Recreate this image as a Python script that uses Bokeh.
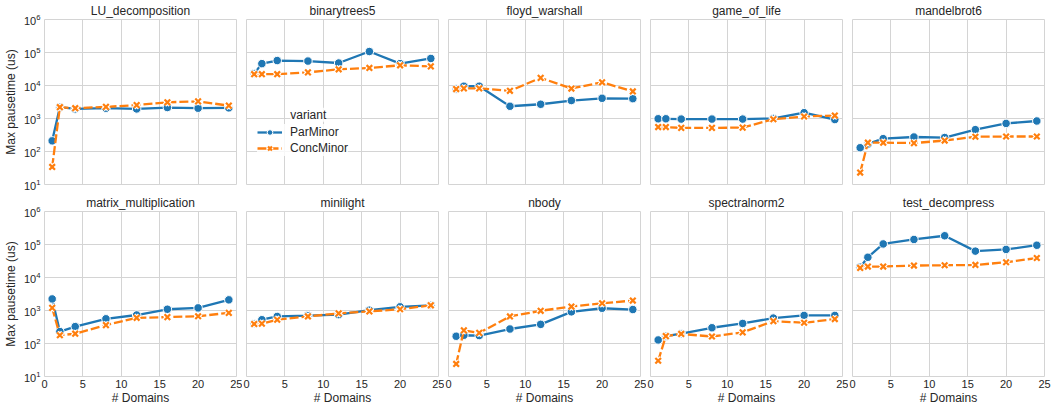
from bokeh.plotting import figure
from bokeh.layouts import column, row
from bokeh.models import Range1d, FixedTicker, Legend, LegendItem, Label
from bokeh.embed import file_html
from bokeh.resources import INLINE

# ---------------- data ----------------
domains = [1, 2, 4, 8, 12, 16, 20, 24]

lu_par = [210, 2200, 1950, 2050, 1950, 2150, 2050, 2100]
lu_conc = [34, 2200, 2050, 2250, 2550, 3100, 3300, 2450]

bt_par = [23000, 46000, 57000, 55000, 48000, 107000, 46000, 66000]
bt_conc = [22000, 22000, 22000, 25000, 31000, 34000, 41000, 38000]

fw_par = [7800, 9500, 9500, 2350, 2700, 3500, 4100, 4000]
fw_conc = [7800, 8200, 8200, 6900, 17000, 8100, 12500, 6600]

gol_par = [980, 980, 960, 960, 960, 1000, 1500, 930]
gol_conc = [550, 550, 520, 520, 530, 950, 1150, 1230]

mb_par = [130, 170, 245, 275, 265, 460, 710, 840]
mb_conc = [23, 185, 185, 180, 215, 280, 285, 285]

mm_par = [2240, 230, 325, 560, 730, 1090, 1200, 2100]
mm_conc = [1200, 178, 198, 360, 600, 630, 670, 850]

ml_par = [400, 525, 660, 700, 750, 1020, 1290, 1440]
ml_conc = [390, 400, 525, 660, 820, 940, 1090, 1440]

nb_par = [166, 178, 174, 275, 380, 910, 1170, 1070]
nb_conc = [24, 250, 210, 660, 980, 1320, 1660, 2000]

sn_par = [128, 167, 198, 300, 405, 590, 710, 710]
sn_conc = [30, 167, 195, 163, 218, 475, 425, 550]

td_par = [20500, 41000, 104000, 142000, 184000, 63000, 71000, 95000]
td_conc = [19500, 21500, 21500, 23000, 23500, 24000, 29000, 39000]

benchmarks = ["LU_decomposition", "binarytrees5", "floyd_warshall", "game_of_life", "mandelbrot6",
              "matrix_multiplication", "minilight", "nbody", "spectralnorm2", "test_decompress"]
par_series = [lu_par, bt_par, fw_par, gol_par, mb_par, mm_par, ml_par, nb_par, sn_par, td_par]
conc_series = [lu_conc, bt_conc, fw_conc, gol_conc, mb_conc, mm_conc, ml_conc, nb_conc, sn_conc, td_conc]

variants = ["ParMinor", "ConcMinor"]
x_ticks = [0, 5, 10, 15, 20, 25]
y_ticks = [10, 100, 1000, 10000, 100000, 1000000]

# ---------------- style ----------------
FONT = "Liberation Sans"
TXT = "#262626"
BLUE = "#1f77b4"
ORANGE = "#ff7f0e"
GRID = "#d4d4d4"
FRAME_W = 192
FRAME_H = 165


def make_panel(i):
    r, c = divmod(i, 5)
    first_col = c == 0
    bottom = r == 1
    p = figure(
        frame_width=FRAME_W, frame_height=FRAME_H,
        x_range=Range1d(0, 25), y_range=Range1d(10, 1e6), y_axis_type="log",
        output_backend="svg", toolbar_location=None, title=benchmarks[i],
        min_border_left=36 if first_col else 4,
        min_border_right=8 if c == 4 else 6,
        min_border_top=0,
        min_border_bottom=0 if bottom else 8,
    )
    p.background_fill_color = "white"
    p.border_fill_color = "white"
    p.outline_line_color = GRID
    p.outline_line_width = 1

    p.title.align = "center"
    p.title.text_font = FONT
    p.title.text_font_size = "12px"
    p.title.text_font_style = "normal"
    p.title.text_color = TXT
    p.title.standoff = 3

    p.xaxis.ticker = FixedTicker(ticks=x_ticks)
    p.xgrid.ticker = FixedTicker(ticks=x_ticks)
    p.yaxis.ticker = FixedTicker(ticks=y_ticks)
    p.ygrid.ticker = FixedTicker(ticks=y_ticks)
    p.grid.grid_line_color = GRID
    p.grid.grid_line_width = 1
    p.yaxis.minor_tick_line_color = None
    p.xaxis.minor_tick_line_color = None

    for ax in (p.xaxis[0], p.yaxis[0]):
        ax.axis_line_color = None
        ax.major_tick_line_color = None
        ax.major_tick_in = 0
        ax.major_tick_out = 0
        ax.major_label_text_font = FONT
        ax.major_label_text_font_size = "11px"
        ax.major_label_text_color = TXT
        ax.axis_label_text_font = FONT
        ax.axis_label_text_font_size = "12px"
        ax.axis_label_text_font_style = "normal"
        ax.axis_label_text_color = TXT

    if bottom:
        p.xaxis.axis_label = "# Domains"
        p.xaxis.major_label_standoff = 3
        p.xaxis.axis_label_standoff = 0
    else:
        p.xaxis.visible = False

    if first_col:
        p.yaxis.axis_label = "Max pausetime (us)"
        p.yaxis.major_label_standoff = 4
        p.yaxis.axis_label_standoff = 3
    else:
        p.yaxis.visible = False

    bl = p.line(domains, par_series[i], line_color=BLUE, line_width=2.3)
    bm = p.scatter(domains, par_series[i], marker="circle", size=8.5,
                   fill_color=BLUE, line_color="white", line_width=1)
    ol = p.line(domains, conc_series[i], line_color=ORANGE, line_width=2.3, line_dash="9 3")
    ow = p.scatter(domains, conc_series[i], marker="x", size=8, line_color="white", line_width=4.5)
    om = p.scatter(domains, conc_series[i], marker="x", size=8, line_color=ORANGE, line_width=2.2)

    if i == 1:
        legend = Legend(
            items=[LegendItem(label=variants[0], renderers=[bl, bm]),
                   LegendItem(label=variants[1], renderers=[ol, ow, om])],
            location=(11, 28),
            padding=4, spacing=0, margin=0,
            glyph_width=25, glyph_height=14, label_height=16, label_standoff=8,
            label_text_font=FONT, label_text_font_size="12px", label_text_color=TXT,
            background_fill_color="white", background_fill_alpha=0.8,
            border_line_color=None,
        )
        p.add_layout(legend)
        p.add_layout(Label(x=5.7, y=1300, text="variant", text_font=FONT,
                           text_font_size="12px", text_color=TXT,
                           text_align="left", text_baseline="middle",
                           background_fill_color="white", background_fill_alpha=0.8))
    return p


panels = [make_panel(i) for i in range(10)]
layout = column(row(*panels[:5]), row(*panels[5:]))

open("out.html", "w").write(file_html(layout, INLINE))
